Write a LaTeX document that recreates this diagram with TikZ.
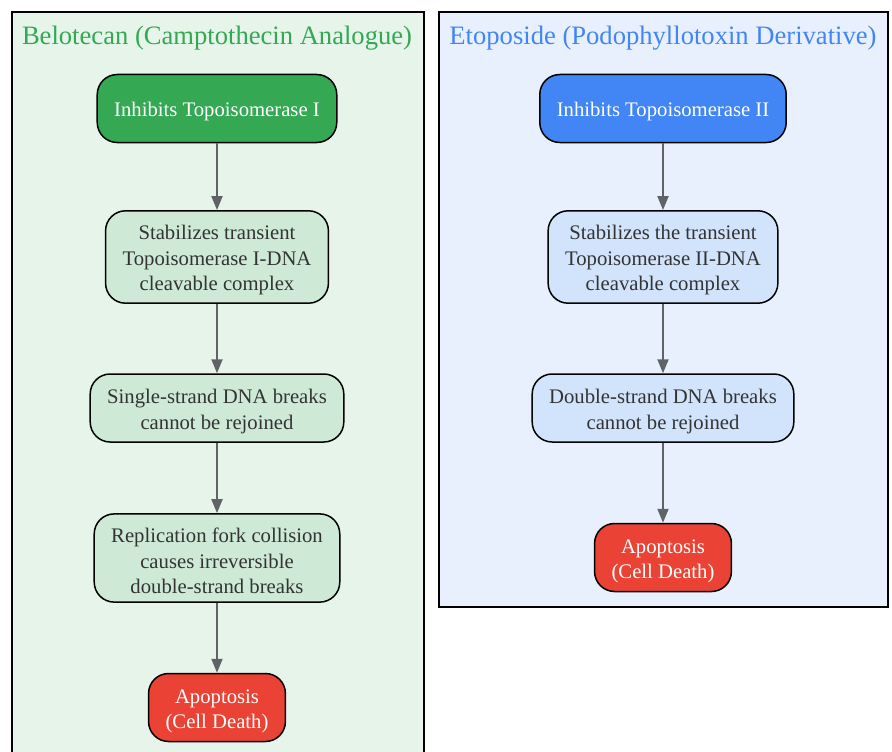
\documentclass[tikz,border=0pt]{standalone}
\usepackage{fontspec}
\setmainfont{Liberation Serif}
\usetikzlibrary{arrows.meta}
\definecolor{beloBg}{HTML}{E6F4EA}
\definecolor{beloDark}{HTML}{34A853}
\definecolor{beloLight}{HTML}{CEEAD6}
\definecolor{etoBg}{HTML}{E8F0FE}
\definecolor{etoDark}{HTML}{4285F4}
\definecolor{etoLight}{HTML}{D2E3FC}
\definecolor{deathRed}{HTML}{EA4335}
\definecolor{arrowGrey}{HTML}{5F6368}
\definecolor{textGrey}{HTML}{333333}
\newcommand{\topstrut}{\rule{0pt}{21pt}}
\tikzset{
    box/.style={rectangle,draw=black,line width=1.5pt,rounded corners=20pt,align=center,
        inner xsep=17pt,inner ysep=8pt,minimum height=68pt,
        font=\fontsize{20.7}{25.5}\selectfont},
    drugbox/.style={box,text=white},
    stepbox/.style={box,text=textGrey},
    deathbox/.style={box,fill=deathRed,text=white},
    cluster/.style={draw=black,line width=1.5pt},
    clustertitle/.style={font=\fontsize{26.6}{30}\selectfont},
    directed/.style={draw=arrowGrey,line width=2pt,arrows={-Triangle[length=14pt,width=11pt]}},
    }
\begin{document}
\begin{tikzpicture}[x=1pt,y=-1pt]
    \useasboundingbox (0,0) rectangle (892,752);
    % clusters
    \draw[cluster,fill=beloBg] (12,12) rectangle (424,770);
    \draw[cluster,fill=etoBg] (439,12) rectangle (888,607);
    \node[clustertitle,text=beloDark] (beloT) at (217,38) {Belotecan (Camptothecin Analogue)};
    \node[clustertitle,text=etoDark] (etoT) at (663,38) {Etoposide (Podophyllotoxin Derivative)};

    % belotecan
    \node[drugbox,fill=beloDark] (b1) at (217,108.5) {\topstrut Inhibits Topoisomerase I};
    \node[stepbox,fill=beloLight] (b2) at (217,257) {\topstrut Stabilizes transient\\Topoisomerase I-DNA\\cleavable complex};
    \node[stepbox,fill=beloLight] (b3) at (217,408) {\topstrut Single-strand DNA breaks\\cannot be rejoined};
    \node[stepbox,fill=beloLight] (b4) at (217,558) {\topstrut Replication fork collision\\causes irreversible\\double-strand breaks};
    \node[deathbox] (b5) at (217,707.5) {\topstrut Apoptosis\\(Cell Death)};

    % etoposide
    \node[drugbox,fill=etoDark] (e1) at (663,108.5) {\topstrut Inhibits Topoisomerase II};
    \node[stepbox,fill=etoLight] (e2) at (663,257) {\topstrut Stabilizes the transient\\Topoisomerase II-DNA\\cleavable complex};
    \node[stepbox,fill=etoLight] (e3) at (663,408) {\topstrut Double-strand DNA breaks\\cannot be rejoined};
    \node[deathbox] (e4) at (663,557.5) {\topstrut Apoptosis\\(Cell Death)};

    \draw[directed] (b1) -- (b2);
    \draw[directed] (b2) -- (b3);
    \draw[directed] (b3) -- (b4);
    \draw[directed] (b4) -- (b5);
    \draw[directed] (e1) -- (e2);
    \draw[directed] (e2) -- (e3);
    \draw[directed] (e3) -- (e4);
\end{tikzpicture}
\end{document}
